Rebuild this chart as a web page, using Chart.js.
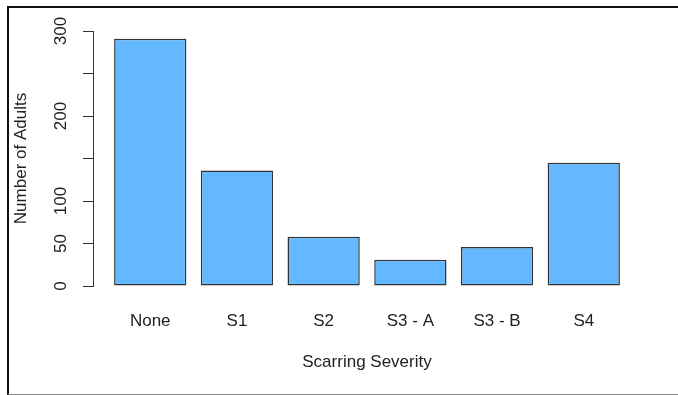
<!DOCTYPE html>
<html>
<head>
<meta charset="utf-8">
<script src="https://cdn.jsdelivr.net/npm/chart.js@4"></script>
<style>
  body { margin: 0; background: #fff; }
  #wrap { position: absolute; left: 0; top: 0; width: 678px; height: 395px; }
  /* frame round the picture, as in the screenshot */
  #frame {
    position: absolute; left: 7px; top: 6px; width: 671px; height: 386px;
    border-top: 2px solid #111; border-left: 2px solid #111; border-bottom: 1px solid #8a8a8a;
    pointer-events: none;
  }
</style>
</head>
<body>
<div id="wrap"><canvas id="js_scarChart" width="678" height="395"></canvas></div>
<div id="frame"></div>
<script>
// chart data
const categories = ['None', 'S1', 'S2', 'S3 - A', 'S3 - B', 'S4'];
const adults = [291, 136, 58, 31, 46, 145];
// y ticks every 50, only these get a label (R drops the others)
const yLabeled = [0, 50, 100, 200, 300];

const fillColor = '#63B8FF';
const lineColor = '#333';
const textColor = '#222';

Chart.defaults.font.family = '"Liberation Sans", Arial, sans-serif';
Chart.defaults.font.size = 17;
Chart.defaults.color = textColor;

document.addEventListener('DOMContentLoaded', () => {
  const ctx = document.getElementById('js_scarChart');

  new Chart(ctx, {
    type: 'bar',
    data: {
      datasets: [{
        label: 'Number of Adults',
        data: adults.map((v, i) => ({ x: i, y: v })),
        backgroundColor: fillColor,
        borderColor: lineColor,
        borderWidth: 1.5,
        borderSkipped: false,
        categoryPercentage: 1,
        barPercentage: 1 / 1.2,
      }],
    },
    options: {
      responsive: false,
      animation: false,
      devicePixelRatio: 1,
      layout: { padding: { top: 31, right: 37, left: 0, bottom: 0 } },
      plugins: {
        legend: { display: false },
        tooltip: { enabled: false },
      },
      scales: {
        x: {
          type: 'linear',
          offset: false,
          min: -0.66,
          max: 5.66,
          grid: { display: false, offset: false },
          border: { display: false },
          ticks: {
            stepSize: 1,
            includeBounds: false,
            autoSkip: false,
            maxRotation: 0,
            padding: 17,
            callback: v => categories[v],
          },
          title: {
            display: true,
            text: 'Scarring Severity',
            padding: { top: 0, bottom: 22 },
          },
          afterFit: (s) => { s.height = 395 - 286; },
        },
        y: {
          min: 0,
          max: 300,
          grid: {
            drawOnChartArea: false,
            drawTicks: true,
            tickLength: 10,
            color: lineColor,
          },
          border: { display: true, color: lineColor, width: 1 },
          ticks: {
            stepSize: 50,
            autoSkip: false,
            minRotation: 90,
            maxRotation: 90,
            crossAlign: 'center',
            padding: 8,
            callback: v => (yLabeled.includes(v) ? String(v) : ''),
          },
          title: {
            display: true,
            text: 'Number of Adults',
            padding: { top: 11, bottom: 0 },
          },
          afterFit: (s) => { s.width = 93; },
        },
      },
    },
  });
});
</script>
</body>
</html>
